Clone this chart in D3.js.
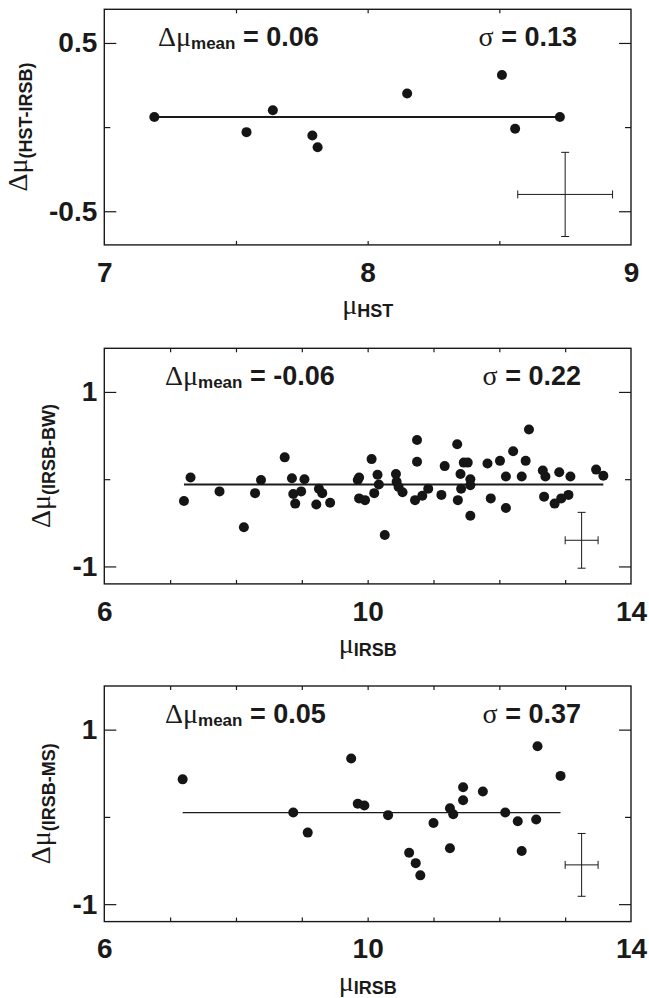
<!DOCTYPE html>
<html>
<head>
<meta charset="utf-8">
<script src="https://cdn.jsdelivr.net/npm/d3@7"></script>
<style>
  body { margin: 0; background: #fff; }
  svg { display: block; }
  text { fill: #1a1a1a; }
  .bold { font-family: 'Liberation Sans', Arial, sans-serif; font-weight: bold; }
  .sym { font-family: 'Liberation Serif', 'Times New Roman', serif; font-weight: normal; }
  .axis line { stroke: #1a1a1a; stroke-width: 1.2; }
  .axis text { font-family: 'Liberation Sans', Arial, sans-serif; font-weight: bold; font-size: 28px; fill: #1a1a1a; }
</style>
</head>
<body>
<div id="chart"></div>
<script>
// PANEL 1: HST - IRSB
const hstMu = [7.19, 7.54, 7.64, 7.79, 7.81, 8.15, 8.51, 8.56, 8.73]
const hstDiff = [0.06, -0.03, 0.10, -0.05, -0.12, 0.20, 0.31, -0.01, 0.06]
const hstMean = 0.06
const hstSigma = 0.13
const hstErr = [8.75, -0.40, 0.18, 0.25] // x, y, xerr, yerr
const hstXDomain = [7, 9]
const hstYDomain = [-0.7, 0.7]
const hstXLabels = [7, 8, 9]
const hstXTicks = [7.5, 8, 8.5]
const hstYLabels = [-0.5, 0.5]
const hstYMinor = [0]

// PANEL 2: IRSB - BW
const bwMu = [7.21, 7.31, 7.75, 8.12, 8.29, 8.38, 8.74, 8.85, 8.87, 8.90, 8.99, 9.04, 9.22, 9.26, 9.31, 9.43,
  9.85, 9.87, 9.87, 9.96, 10.06, 10.10, 10.15, 10.17, 10.26, 10.43, 10.44, 10.47, 10.53, 10.72, 10.75, 10.75,
  10.83, 10.92, 11.12, 11.17, 11.36, 11.37, 11.41, 11.42, 11.46, 11.52, 11.56, 11.56, 11.56, 11.82, 11.87, 12.01,
  12.10, 12.10, 12.21, 12.34, 12.40, 12.45, 12.66, 12.68, 12.70, 12.84, 12.91, 12.94, 13.05, 13.08, 13.47, 13.58]
const bwDiff = [-0.25, 0.02, -0.14, -0.55, -0.16, -0.01, 0.25, 0.01, -0.17, -0.28, -0.14, 0.00, -0.29, -0.11, -0.16, -0.27,
  -0.01, 0.02, -0.22, -0.24, 0.23, -0.16, 0.05, -0.06, -0.64, 0.06, -0.03, -0.09, -0.15, -0.24, 0.45, 0.20,
  -0.19, -0.11, -0.18, 0.15, 0.40, -0.24, 0.06, -0.11, 0.19, 0.19, 0.00, -0.07, -0.42, 0.18, -0.22, 0.21,
  0.03, -0.33, 0.32, 0.03, 0.21, 0.57, 0.10, -0.20, 0.03, -0.28, 0.08, -0.22, -0.18, 0.03, 0.11, 0.04]
const bwMean = -0.06
const bwSigma = 0.22
const bwErr = [13.25, -0.70, 0.25, 0.32]

// PANEL 3: IRSB - MS
const msMu = [7.19, 8.87, 9.09, 9.75, 9.85, 9.95, 10.31, 10.63, 10.73, 10.80, 11.00, 11.25, 11.25, 11.30,
  11.45, 11.45, 11.75, 12.09, 12.28, 12.34, 12.56, 12.58, 12.93]
const msDiff = [0.43, 0.05, -0.18, 0.67, 0.15, 0.13, 0.02, -0.41, -0.53, -0.67, -0.07, -0.36, 0.10, 0.03,
  0.19, 0.34, 0.29, 0.05, -0.05, -0.39, -0.03, 0.81, 0.47]
const msMean = 0.05
const msSigma = 0.37
const msErr = [13.25, -0.55, 0.25, 0.36]

const irsbXDomain = [6, 14]
const irsbYDomain = [-1.2, 1.5]
const irsbXLabels = [6, 10, 14]
const irsbXTicks = [7, 8, 9, 10, 11, 12, 13]
const irsbYLabels = [-1, 1]
const irsbYMinor = [0]

const width = 649
const height = 998
const frame = { left: 104.3, right: 631, height: 235.6 }

const svg = d3.select('#chart').append('svg')
  .attr('width', width)
  .attr('height', height)

const fmt = d => String(d)

function drawPanel(p) {
  const x = d3.scaleLinear().domain(p.xDomain).range([frame.left, frame.right])
  const y = d3.scaleLinear().domain(p.yDomain).range([p.top + frame.height, p.top])
  const bottom = p.top + frame.height
  const g = svg.append('g')

  // frame
  g.append('rect')
    .attr('x', frame.left)
    .attr('y', p.top)
    .attr('width', frame.right - frame.left)
    .attr('height', frame.height)
    .attr('fill', 'none')
    .attr('stroke', '#1a1a1a')
    .attr('stroke-width', 1.4)

  // Y-AXIS (ticks inward, both sides)
  g.append('g').attr('class', 'axis')
    .attr('transform', `translate(${frame.left} 0)`)
    .call(d3.axisLeft(y).tickValues(p.yLabels).tickSizeInner(-12).tickSizeOuter(0).tickPadding(7).tickFormat(fmt))
    .call(s => s.select('.domain').remove())
  g.append('g').attr('class', 'axis')
    .attr('transform', `translate(${frame.left} 0)`)
    .call(d3.axisLeft(y).tickValues(p.yMinor).tickSizeInner(-6).tickSizeOuter(0).tickFormat(''))
    .call(s => s.select('.domain').remove())
  g.append('g').attr('class', 'axis')
    .attr('transform', `translate(${frame.right} 0)`)
    .call(d3.axisRight(y).tickValues(p.yLabels).tickSizeInner(-12).tickSizeOuter(0).tickFormat(''))
    .call(s => s.select('.domain').remove())
  g.append('g').attr('class', 'axis')
    .attr('transform', `translate(${frame.right} 0)`)
    .call(d3.axisRight(y).tickValues(p.yMinor).tickSizeInner(-6).tickSizeOuter(0).tickFormat(''))
    .call(s => s.select('.domain').remove())

  // X-AXIS
  g.append('g').attr('class', 'axis')
    .attr('transform', `translate(0 ${bottom})`)
    .call(d3.axisBottom(x).tickValues(p.xLabels).tickSizeInner(0).tickSizeOuter(0).tickPadding(17).tickFormat(fmt))
    .call(s => s.select('.domain').remove())
  g.append('g').attr('class', 'axis')
    .attr('transform', `translate(0 ${bottom})`)
    .call(d3.axisBottom(x).tickValues(p.xTicks).tickSizeInner(-4).tickSizeOuter(0).tickFormat(''))
    .call(s => s.select('.domain').remove())
  g.append('g').attr('class', 'axis')
    .attr('transform', `translate(0 ${p.top})`)
    .call(d3.axisTop(x).tickValues(p.xTicks).tickSizeInner(-4).tickSizeOuter(0).tickFormat(''))
    .call(s => s.select('.domain').remove())

  // MEAN LINE
  const ext = d3.extent(p.xs)
  g.append('path')
    .attr('d', d3.line()([[x(ext[0]), y(p.mean)], [x(ext[1]), y(p.mean)]]))
    .attr('stroke', '#1a1a1a')
    .attr('stroke-width', p.lineWidth)

  // POINTS
  g.append('g').selectAll('circle')
    .data(p.xs.map((d, i) => [d, p.ys[i]]))
    .enter().append('circle')
    .attr('cx', d => x(d[0]))
    .attr('cy', d => y(d[1]))
    .attr('r', 5)
    .attr('fill', '#151515')

  // ERROR CROSS
  const [ex, ey, exe, eye] = p.err
  const cap = 4
  const err = g.append('g').attr('stroke', '#1a1a1a').attr('stroke-width', 1)
  err.append('path').attr('d', `M${x(ex)},${y(ey + eye)}V${y(ey - eye)}` +
    `M${x(ex) - cap},${y(ey + eye)}h${cap * 2}M${x(ex) - cap},${y(ey - eye)}h${cap * 2}`)
  err.append('path').attr('d', `M${x(ex - exe)},${y(ey)}H${x(ex + exe)}` +
    `M${x(ex - exe)},${y(ey) - cap}v${cap * 2}M${x(ex + exe)},${y(ey) - cap}v${cap * 2}`)

  // ANNOTATIONS
  const meanText = g.append('text')
    .attr('x', p.meanX)
    .attr('y', p.top + 37)
  meanText.append('tspan').attr('class', 'sym').style('font-size', '28px').text('Δμ')
  meanText.append('tspan').attr('class', 'bold').style('font-size', '17px').attr('dy', 3).text('mean')
  meanText.append('tspan').attr('class', 'bold').style('font-size', '27px').attr('dy', -3).text(` = ${p.mean.toFixed(2)}`)

  const sigmaText = g.append('text')
    .attr('x', p.sigmaX)
    .attr('y', p.top + 37)
    .attr('text-anchor', 'end')
  sigmaText.append('tspan').attr('class', 'sym').style('font-size', '28px').text('σ')
  sigmaText.append('tspan').attr('class', 'bold').style('font-size', '27px').text(` = ${p.sigma.toFixed(2)}`)

  // AXIS TITLES
  const xTitle = g.append('text')
    .attr('x', (frame.left + frame.right) / 2)
    .attr('y', bottom + 69)
    .attr('text-anchor', 'middle')
  xTitle.append('tspan').attr('class', 'sym').style('font-size', '28px').text('μ')
  xTitle.append('tspan').attr('class', 'bold').style('font-size', '18px').attr('dy', 3).text(p.xSub)

  const yTitle = g.append('text')
    .attr('transform', `translate(${p.yTitleX} ${p.top + frame.height / 2}) rotate(-90)`)
    .attr('text-anchor', 'middle')
  yTitle.append('tspan').attr('class', 'sym').style('font-size', '28px').text('Δμ')
  yTitle.append('tspan').attr('class', 'bold').style('font-size', '18px').attr('dy', 5).text(p.ySub)
}

drawPanel({ xs: hstMu, ys: hstDiff, mean: hstMean, sigma: hstSigma, err: hstErr,
  xDomain: hstXDomain, yDomain: hstYDomain, xLabels: hstXLabels, xTicks: hstXTicks,
  yLabels: hstYLabels, yMinor: hstYMinor, xSub: 'HST', ySub: '(HST-IRSB)',
  top: 9.3, lineWidth: 2, meanX: 158, sigmaX: 577, yTitleX: 27 })

drawPanel({ xs: bwMu, ys: bwDiff, mean: bwMean, sigma: bwSigma, err: bwErr,
  xDomain: irsbXDomain, yDomain: irsbYDomain, xLabels: irsbXLabels, xTicks: irsbXTicks,
  yLabels: irsbYLabels, yMinor: irsbYMinor, xSub: 'IRSB', ySub: '(IRSB-BW)',
  top: 348.3, lineWidth: 2, meanX: 165, sigmaX: 581, yTitleX: 50 })

drawPanel({ xs: msMu, ys: msDiff, mean: msMean, sigma: msSigma, err: msErr,
  xDomain: irsbXDomain, yDomain: irsbYDomain, xLabels: irsbXLabels, xTicks: irsbXTicks,
  yLabels: irsbYLabels, yMinor: irsbYMinor, xSub: 'IRSB', ySub: '(IRSB-MS)',
  top: 686, lineWidth: 1.2, meanX: 165, sigmaX: 581, yTitleX: 50 })
</script>
</body>
</html>
